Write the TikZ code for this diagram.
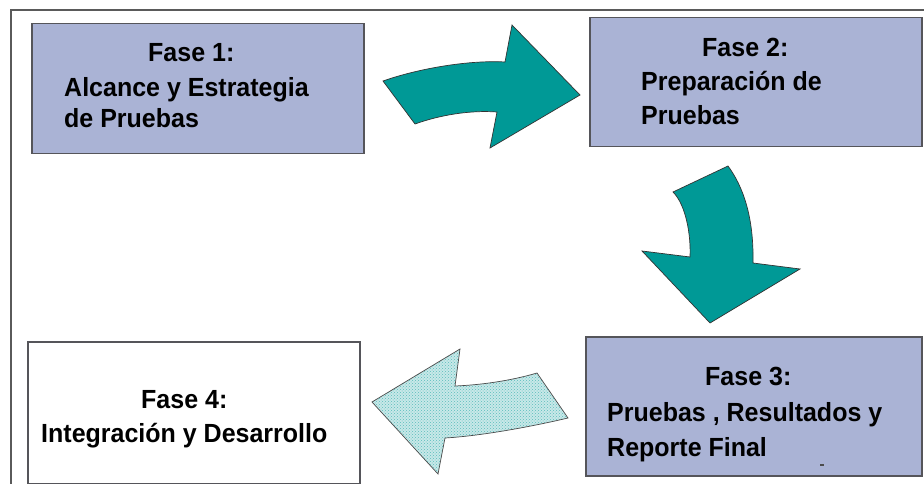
\documentclass[tikz,border=0pt]{standalone}
\usepackage{fontspec}
\setmainfont{Liberation Sans}
\usetikzlibrary{patterns}
\definecolor{boxfill}{RGB}{170,179,213}
\definecolor{boxline}{RGB}{85,85,90}
\definecolor{tealarrow}{RGB}{0,153,150}
\definecolor{lightarrow}{RGB}{200,232,232}
\definecolor{frameline}{RGB}{90,90,90}
\begin{document}
\begin{tikzpicture}[x=1pt,y=-1pt,
  phase/.style={draw=boxline,line width=1.5pt,fill=boxfill,rectangle,inner sep=0pt,anchor=north west},
  txt/.style={anchor=base west,inner sep=0pt,font=\fontsize{25}{30}\selectfont\bfseries,yscale=1.05},
  bigarrow/.style={fill=tealarrow,draw=black!80,line width=0.7pt,line join=miter},
  lightblock/.style={draw=black!70,line width=0.7pt,preaction={fill=lightarrow},pattern=crosshatch dots,pattern color=tealarrow!65}]
\useasboundingbox (0,0) rectangle (924,484);
\fill[white] (0,0) rectangle (924,484);
% frame
\coordinate (fbl) at (11,484);
\coordinate (ftl) at (11,10);
\coordinate (ftr) at (924,10);
\draw[frameline,line width=1.5pt] (fbl) -- (ftl) -- (ftr);
% boxes
\node[phase,minimum width=332pt,minimum height=130pt] (b1) at (31,23) {};
\node[phase,minimum width=332pt,minimum height=129pt] (b2) at (589,17) {};
\node[phase,minimum width=336pt,minimum height=139pt] (b3) at (585,336) {};
\node[phase,fill=white,minimum width=332pt,minimum height=142pt] (b4) at (27,341) {};
% texts
\node[txt] (t1a) at (148,62) {Fase 1:};
\node[txt] (t1b) at (64,97) {Alcance y Estrategia};
\node[txt] (t1c) at (64,128) {de Pruebas};
\node[txt] (t2a) at (702,57) {Fase 2:};
\node[txt] (t2b) at (641,91) {Preparación de};
\node[txt] (t2c) at (641,125) {Pruebas};
\node[txt] (t3a) at (705,385) {Fase 3:};
\node[txt] (t3b) at (607,421) {Pruebas , Resultados y};
\node[txt] (t3c) at (607,456) {Reporte Final};
\node[txt] (t4a) at (141,408) {Fase 4:};
\node[txt] (t4b) at (41,442) {Integración y Desarrollo};
\fill[black!70] (820,464) rectangle (824,466);
% arrow 1 (right)
\draw[bigarrow] (383,81) .. controls (420,68) and (470,60) .. (505,62)
  -- (512,25) -- (580,95) -- (490,148) -- (497,112)
  .. controls (470,110) and (440,115) .. (415,124) -- cycle;
% arrow 2 (down)
\draw[bigarrow] (673,192) -- (728,166)
  .. controls (742,185) and (754,215) .. (753,263)
  -- (800,269) -- (710,323) -- (642,251) -- (690,257)
  .. controls (691,235) and (686,205) .. cycle;
% arrow 3 (left)
\draw[lightblock] (372,402) -- (460,349) -- (455,386)
  .. controls (480,385) and (510,381) .. (537,373)
  -- (568,418)
  .. controls (530,427) and (480,436) .. (445,438)
  -- (438,474) -- cycle;
\end{tikzpicture}
\end{document}
